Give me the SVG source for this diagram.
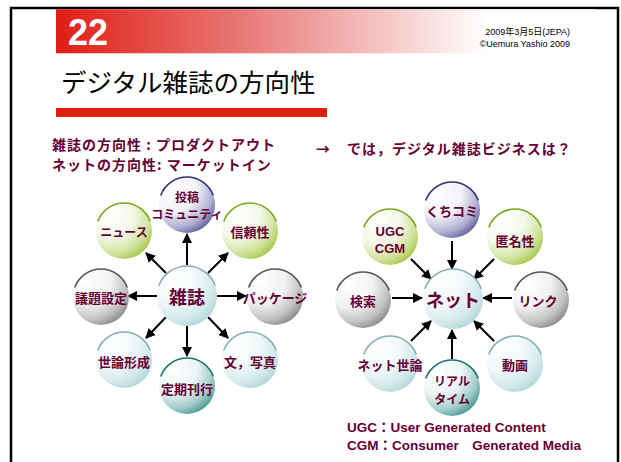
<svg xmlns="http://www.w3.org/2000/svg" width="621" height="462" viewBox="0 0 621 462">
<defs>
<linearGradient id="hdr" x1="0" y1="0" x2="1" y2="0">
<stop offset="0" stop-color="#e01e14"/>
<stop offset="0.35" stop-color="#e87a78"/>
<stop offset="0.8" stop-color="#ffffff"/>
</linearGradient>
<radialGradient id="gBlue" cx="0.28" cy="0.22" r="0.92" fx="0.25" fy="0.2">
<stop offset="0" stop-color="#ffffff"/><stop offset="0.45" stop-color="#f1f1f7"/><stop offset="0.75" stop-color="#b0b0d2"/><stop offset="1" stop-color="#45458e"/>
</radialGradient>
<radialGradient id="gGreen" cx="0.28" cy="0.22" r="0.92" fx="0.25" fy="0.2">
<stop offset="0" stop-color="#ffffff"/><stop offset="0.45" stop-color="#f3f8e8"/><stop offset="0.75" stop-color="#cfe39c"/><stop offset="1" stop-color="#97bf2e"/>
</radialGradient>
<radialGradient id="gGray" cx="0.28" cy="0.22" r="0.92" fx="0.25" fy="0.2">
<stop offset="0" stop-color="#ffffff"/><stop offset="0.45" stop-color="#f2f2f2"/><stop offset="0.75" stop-color="#c2c2c2"/><stop offset="1" stop-color="#767676"/>
</radialGradient>
<radialGradient id="gLight" cx="0.28" cy="0.22" r="0.92" fx="0.25" fy="0.2">
<stop offset="0" stop-color="#ffffff"/><stop offset="0.45" stop-color="#f1f8f9"/><stop offset="0.75" stop-color="#d2e9eb"/><stop offset="1" stop-color="#a6d1d5"/>
</radialGradient>
<radialGradient id="gTeal" cx="0.28" cy="0.22" r="0.92" fx="0.25" fy="0.2">
<stop offset="0" stop-color="#ffffff"/><stop offset="0.45" stop-color="#ecf5f5"/><stop offset="0.75" stop-color="#a1cbc9"/><stop offset="1" stop-color="#288a85"/>
</radialGradient>
<marker id="ah" viewBox="0 0 10 10" refX="9" refY="5" markerWidth="5" markerHeight="5" orient="auto" markerUnits="strokeWidth">
<path d="M0,0 L10,5 L0,10 z" fill="#000"/>
</marker>
</defs>
<style>
.lbl{font-family:"Noto Sans CJK JP","Noto Sans CJK SC",sans-serif;font-weight:bold;fill:#660033;font-size:13px;text-anchor:middle;dominant-baseline:central}
.big{font-size:18px}
.sm{font-size:12px}
.lat{font-family:"Liberation Sans",Arial,sans-serif}
.head{font-family:"Noto Sans CJK JP",sans-serif;font-weight:bold;fill:#660033;font-size:14px;letter-spacing:1px}
.foot{font-family:"Liberation Sans","Noto Sans CJK JP",sans-serif;font-weight:bold;fill:#660033;font-size:13.5px}
.arc{fill:none;stroke-width:1.6}
.blue .arc{stroke:#2e2e7a}.green .arc{stroke:#7ea51e}.gray .arc{stroke:#555}.light .arc{stroke:#86aeb2}.teal .arc{stroke:#16736f}
.blue circle{fill:url(#gBlue)}.green circle{fill:url(#gGreen)}.gray circle{fill:url(#gGray)}.light circle{fill:url(#gLight)}.teal circle{fill:url(#gTeal)}
.conn line{stroke:#000;stroke-width:2;marker-end:url(#ah)}
</style>
<rect x="11" y="8" width="607" height="470" fill="#fff" stroke="#000" stroke-width="2.5"/>
<g id="header">
<rect x="56" y="9.3" width="540" height="44" fill="url(#hdr)"/>
<text x="68" y="45" font-family="Liberation Sans,Arial,sans-serif" font-weight="bold" font-size="36" fill="#fff" textLength="40" lengthAdjust="spacingAndGlyphs">22</text>
<text x="570" y="35" text-anchor="end" font-family="Liberation Sans,'Noto Sans CJK JP',sans-serif" font-size="9" fill="#000">2009年3月5日(JEPA)</text>
<text x="570" y="47" text-anchor="end" font-family="Liberation Sans,'Noto Sans CJK JP',sans-serif" font-size="9" fill="#000">©Uemura Yashio 2009</text>
<text x="61" y="92" font-family="'Noto Sans CJK JP',sans-serif" font-size="25.5" fill="#000">デジタル雑誌の方向性</text>
<rect x="56" y="108" width="271" height="9" fill="#e11f0e"/>
</g>
<g id="headings">
<text class="head" x="52" y="150">雑誌の方向性 : プロダクトアウト</text>
<text class="head" x="52" y="170">ネットの方向性: マーケットイン</text>
<text class="head" x="316" y="154">→</text>
<text class="head" x="347" y="154">では，デジタル雑誌ビジネスは？</text>
</g>
<g id="connectors" class="conn">
<line x1="187" y1="265" x2="187" y2="234"/>
<line x1="166" y1="273" x2="146" y2="253"/>
<line x1="208" y1="273" x2="228" y2="253"/>
<line x1="157" y1="296" x2="128" y2="296"/>
<line x1="217" y1="296" x2="246" y2="296"/>
<line x1="166" y1="317" x2="146" y2="338"/>
<line x1="187" y1="326" x2="187" y2="356"/>
<line x1="208" y1="317" x2="228" y2="338"/>
<line x1="452" y1="241" x2="452" y2="269"/>
<line x1="411" y1="259" x2="431" y2="279"/>
<line x1="494" y1="259" x2="474" y2="279"/>
<line x1="392" y1="298" x2="422" y2="298"/>
<line x1="512" y1="298" x2="483" y2="298"/>
<line x1="411" y1="341" x2="431" y2="321"/>
<line x1="452" y1="359" x2="452" y2="330"/>
<line x1="494" y1="341" x2="474" y2="321"/>
</g>
<g id="n-zasshi" class="light" transform="translate(187,296)"><circle r="30"/><path class="arc" d="M-28.2,-10.3 A30,30 0 0 1 28.2,-10.3"/><text class="lbl big" y="0">雑誌</text></g>
<g id="n-toukou" class="blue" transform="translate(187,205)"><circle r="28"/><path class="arc" d="M-26.3,-9.6 A28,28 0 0 1 26.3,-9.6"/><text class="lbl sm" y="-9">投稿</text><text class="lbl sm" y="8">コミュニティ</text></g>
<g id="n-news" class="green" transform="translate(124,231)"><circle r="28"/><path class="arc" d="M-26.3,-9.6 A28,28 0 0 1 26.3,-9.6"/><text class="lbl sm" y="0">ニュース</text></g>
<g id="n-shinrai" class="green" transform="translate(250,231)"><circle r="28"/><path class="arc" d="M-26.3,-9.6 A28,28 0 0 1 26.3,-9.6"/><text class="lbl" y="0">信頼性</text></g>
<g id="n-gidai" class="gray" transform="translate(101,297)"><circle r="28"/><path class="arc" d="M-26.3,-9.6 A28,28 0 0 1 26.3,-9.6"/><text class="lbl" y="0">議題設定</text></g>
<g id="n-package" class="gray" transform="translate(275,297)"><circle r="28"/><path class="arc" d="M-26.3,-9.6 A28,28 0 0 1 26.3,-9.6"/><text class="lbl" y="0">パッケージ</text></g>
<g id="n-seron" class="light" transform="translate(124,360)"><circle r="28"/><path class="arc" d="M-26.3,-9.6 A28,28 0 0 1 26.3,-9.6"/><text class="lbl" y="1">世論形成</text></g>
<g id="n-teiki" class="teal" transform="translate(187,386)"><circle r="28"/><path class="arc" d="M-26.3,-9.6 A28,28 0 0 1 26.3,-9.6"/><text class="lbl" y="2">定期刊行</text></g>
<g id="n-bun" class="light" transform="translate(250,360)"><circle r="28"/><path class="arc" d="M-26.3,-9.6 A28,28 0 0 1 26.3,-9.6"/><text class="lbl" y="1">文，写真</text></g>
<g id="n-net" class="light" transform="translate(453,299)"><circle r="30"/><path class="arc" d="M-28.2,-10.3 A30,30 0 0 1 28.2,-10.3"/><text class="lbl big" y="0">ネット</text></g>
<g id="n-kuchikomi" class="blue" transform="translate(452,210)"><circle r="28"/><path class="arc" d="M-26.3,-9.6 A28,28 0 0 1 26.3,-9.6"/><text class="lbl" y="0">くちコミ</text></g>
<g id="n-ugc" class="green" transform="translate(390,237)"><circle r="28"/><path class="arc" d="M-26.3,-9.6 A28,28 0 0 1 26.3,-9.6"/><text class="lbl lat" y="-6">UGC</text><text class="lbl lat" y="11">CGM</text></g>
<g id="n-tokumei" class="green" transform="translate(515,237)"><circle r="28"/><path class="arc" d="M-26.3,-9.6 A28,28 0 0 1 26.3,-9.6"/><text class="lbl" y="3">匿名性</text></g>
<g id="n-kensaku" class="gray" transform="translate(363,300)"><circle r="28"/><path class="arc" d="M-26.3,-9.6 A28,28 0 0 1 26.3,-9.6"/><text class="lbl" y="0">検索</text></g>
<g id="n-link" class="gray" transform="translate(541,300)"><circle r="28"/><path class="arc" d="M-26.3,-9.6 A28,28 0 0 1 26.3,-9.6"/><text class="lbl" x="-3" y="0">リンク</text></g>
<g id="n-netseron" class="light" transform="translate(390,364)"><circle r="28"/><path class="arc" d="M-26.3,-9.6 A28,28 0 0 1 26.3,-9.6"/><text class="lbl" y="0">ネット世論</text></g>
<g id="n-douga" class="light" transform="translate(515,364)"><circle r="28"/><path class="arc" d="M-26.3,-9.6 A28,28 0 0 1 26.3,-9.6"/><text class="lbl" y="0">動画</text></g>
<g id="n-real" class="teal" transform="translate(452,388)"><circle r="28"/><path class="arc" d="M-26.3,-9.6 A28,28 0 0 1 26.3,-9.6"/><text class="lbl sm" y="-8">リアル</text><text class="lbl sm" y="10">タイム</text></g>
<g id="footnote">
<text class="foot" x="347" y="432">UGC：User Generated Content</text>
<text class="foot" x="347" y="450">CGM：Consumer　Generated Media</text>
</g>
</svg>
